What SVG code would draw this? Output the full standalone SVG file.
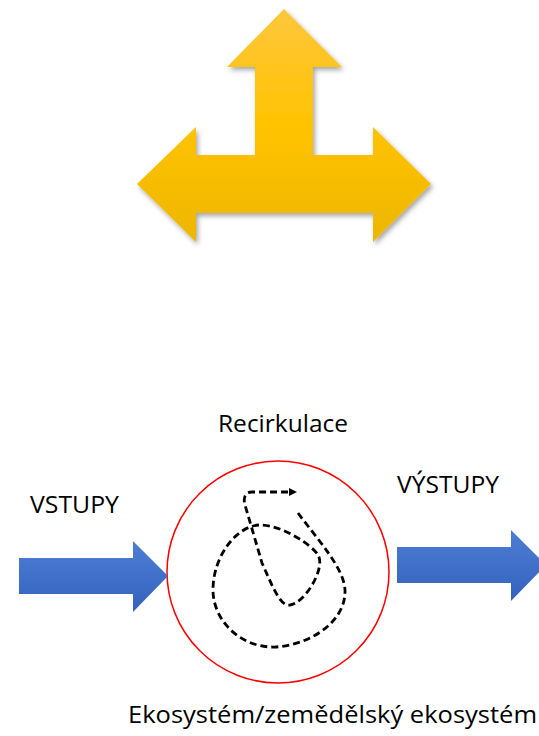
<svg xmlns="http://www.w3.org/2000/svg" width="539" height="736" viewBox="0 0 539 736">
<style>
.lbl{font-family:"Open Sans","Liberation Sans",sans-serif;font-size:24px;fill:#000}
.dash{fill:none;stroke:#000;stroke-width:2.8;stroke-dasharray:7,4}
.blue{fill:url(#gBlue)}
</style>
<defs>
<linearGradient id="gYellow" x1="0" y1="0" x2="0" y2="1">
<stop offset="0" stop-color="#FFC63C"/>
<stop offset="0.5" stop-color="#FFC300"/>
<stop offset="1" stop-color="#EDB600"/>
</linearGradient>
<linearGradient id="gBlue" x1="0" y1="0" x2="0" y2="1">
<stop offset="0" stop-color="#4E7ED3"/>
<stop offset="1" stop-color="#3262BE"/>
</linearGradient>
<filter id="sh" x="-10%" y="-10%" width="130%" height="130%">
<feDropShadow dx="2" dy="3" stdDeviation="2.5" flood-color="#000" flood-opacity="0.35"/>
</filter>
<marker id="ah" markerWidth="10" markerHeight="10" refX="2" refY="4" orient="auto" markerUnits="userSpaceOnUse">
<path d="M0,0 L8,4 L0,8 Z" fill="#000"/>
</marker>
</defs>
<g id="yellow-arrow">
<path filter="url(#sh)" fill="url(#gYellow)" d="M284,9 L342,67 L313,67 L313,155 L373,155 L373,127 L431,184 L373,242 L373,213 L196,213 L196,242 L137,184 L196,127 L196,155 L255,155 L255,67 L227,67 Z"/>
</g>
<g id="ecosystem">
<circle cx="278" cy="572" r="111" fill="none" stroke="#FF0000" stroke-width="1.5"/>
</g>
<g id="connectors">
<path class="blue" d="M19,558 L133,558 L133,541 L168,576 L133,612 L133,594 L19,594 Z"/>
<path class="blue" d="M397,547 L511,547 L511,530 L546,565 L511,601 L511,583 L397,583 Z"/>
<path class="dash" marker-end="url(#ah)" d="M298,513 C318,540 344,568 345,590 C346,622 310,645 275,647 C240,648 213,620 213,590 C213,555 238,525 260,525 C282,525 312,545 318,555 C326,568 305,603 290,605 C280,607 272,585 262,563 L245,505 C243,498 245,492 252,492 L291,492"/>
</g>
<g id="labels">
<text class="lbl" x="218" y="432" textLength="130" lengthAdjust="spacingAndGlyphs">Recirkulace</text>
<text class="lbl" x="30" y="513" textLength="89" lengthAdjust="spacingAndGlyphs">VSTUPY</text>
<text class="lbl" x="397" y="493" textLength="102" lengthAdjust="spacingAndGlyphs">VÝSTUPY</text>
<text class="lbl" x="128" y="723" textLength="409" lengthAdjust="spacingAndGlyphs">Ekosystém/zemědělský ekosystém</text>
</g>
</svg>
